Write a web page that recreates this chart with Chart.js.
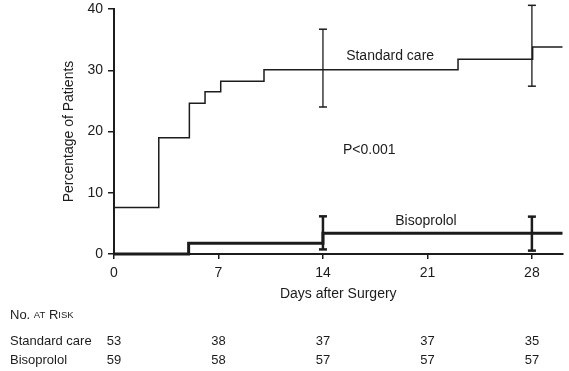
<!DOCTYPE html>
<html>
<head>
<meta charset="utf-8">
<script src="https://cdn.jsdelivr.net/npm/chart.js@4"></script>
<style>
  html, body { margin: 0; padding: 0; background: #fff; }
  #wrap { width: 569px; height: 371px; }
</style>
</head>
<body>
<div id="wrap"><canvas id="kmcanvas" width="569" height="371"></canvas></div>
<script>
// step curves (day where the level starts, percentage)
const standardDays = [0, 3, 5.05, 6.1, 7.15, 10.05, 23.05, 28.05, 30.05];
const standardPct  = [7.6, 19.0, 24.6, 26.5, 28.2, 30.1, 31.8, 33.8, 33.8];
const bisoDays = [0, 5, 14, 30.05];
const bisoPct  = [0, 1.75, 3.4, 3.4];

// error bars
const errDays = [14, 28];
const standardLow  = [24.0, 27.4];
const standardHigh = [36.7, 40.6];
const bisoLow  = [0.75, 0.55];
const bisoHigh = [6.15, 6.1];

// axis ticks
const xTicks = [0, 7, 14, 21, 28];
const yTicks = [0, 10, 20, 30, 40];

// number at risk
const riskDays = [0, 7, 14, 21, 28];
const riskStandard = [53, 38, 37, 37, 35];
const riskBiso = [59, 58, 57, 57, 57];

const FONT = '"Liberation Sans", Arial, Helvetica, sans-serif';
const INK = '#1c1c1c';

function steps(days, vals) {
  return days.map((d, i) => ({ x: d, y: vals[i] }));
}
function bars(days, lo, hi) {
  let out = [];
  days.forEach((d, i) => {
    if (i > 0) out.push({ x: d, y: null });
    out.push({ x: d, y: lo[i] });
    out.push({ x: d, y: hi[i] });
  });
  return out;
}

const labelsPlugin = {
  id: 'kmLabels',
  afterDatasetsDraw(chart) {
    const ctx = chart.ctx;
    const xs = chart.scales.x, ys = chart.scales.y;
    ctx.save();
    ctx.fillStyle = INK;
    ctx.font = '14px ' + FONT;
    ctx.textAlign = 'center';
    ctx.textBaseline = 'middle';
    ctx.fillText('Standard care', xs.getPixelForValue(18.5), ys.getPixelForValue(32.3));
    ctx.fillText('P<0.001', xs.getPixelForValue(17.1), ys.getPixelForValue(16.9));
    ctx.fillText('Bisoprolol', xs.getPixelForValue(20.9), ys.getPixelForValue(5.3));

    // No. at risk heading in small caps
    let x = 10, y = 315;
    ctx.textAlign = 'left';
    [['No.', 13], [' ', 13], ['AT', 9.5], [' ', 13], ['R', 13], ['ISK', 9.5]].forEach(p => {
      ctx.font = p[1] + 'px ' + FONT;
      ctx.fillText(p[0], x, y + (p[1] < 13 ? 0.5 : 0));
      x += ctx.measureText(p[0]).width;
    });

    ctx.font = '13px ' + FONT;
    ctx.fillText('Standard care', 10, 341);
    ctx.fillText('Bisoprolol', 10, 360);
    ctx.textAlign = 'center';
    riskDays.forEach((d, i) => {
      const px = xs.getPixelForValue(d);
      ctx.fillText(String(riskStandard[i]), px, 341);
      ctx.fillText(String(riskBiso[i]), px, 360);
    });
    ctx.restore();
  }
};

const ctx = document.getElementById('kmcanvas');
const chart = new Chart(ctx, {
  type: 'line',
  data: {
    datasets: [
      {
        label: 'Standard care',
        data: steps(standardDays, standardPct),
        stepped: true,
        borderColor: INK,
        borderWidth: 1.5,
        pointRadius: 0,
        fill: false,
        clip: false
      },
      {
        label: 'Bisoprolol',
        data: steps(bisoDays, bisoPct),
        stepped: true,
        borderColor: INK,
        borderWidth: 3,
        pointRadius: 0,
        fill: false,
        clip: false
      },
      {
        label: 'Standard care CI',
        data: bars(errDays, standardLow, standardHigh),
        borderColor: INK,
        borderWidth: 1.3,
        pointStyle: 'line',
        pointRadius: 4,
        pointBorderWidth: 1.5,
        pointBorderColor: INK,
        spanGaps: false,
        clip: false
      },
      {
        label: 'Bisoprolol CI',
        data: bars(errDays, bisoLow, bisoHigh),
        borderColor: INK,
        borderWidth: 2.5,
        pointStyle: 'line',
        pointRadius: 4,
        pointBorderWidth: 2.5,
        pointBorderColor: INK,
        spanGaps: false,
        clip: false
      }
    ]
  },
  options: {
    responsive: false,
    animation: false,
    layout: { padding: { left: 0, right: 6, top: 9, bottom: 66 } },
    plugins: {
      legend: { display: false },
      tooltip: { enabled: false }
    },
    scales: {
      x: {
        type: 'linear',
        min: 0,
        max: 30.05,
        afterBuildTicks: s => { s.ticks = xTicks.map(v => ({ value: v })); },
        afterFit: s => { s.height = 51; },
        grid: { drawOnChartArea: false, drawTicks: true, tickLength: 5, color: INK, lineWidth: 1.5 },
        border: { color: INK, width: 2 },
        ticks: { color: INK, padding: 6, font: { family: FONT, size: 14 }, maxRotation: 0 },
        title: {
          display: true,
          text: 'Days after Surgery',
          color: INK,
          font: { family: FONT, size: 14 },
          padding: { top: 4, bottom: 2 }
        }
      },
      y: {
        min: 0,
        max: 40,
        afterBuildTicks: s => { s.ticks = yTicks.map(v => ({ value: v })); },
        afterFit: s => { s.width = 114; s.paddingTop = 0; s.paddingBottom = 0; },
        grid: { drawOnChartArea: false, drawTicks: true, tickLength: 6, color: INK, lineWidth: 1.5 },
        border: { color: INK, width: 2 },
        ticks: { color: INK, padding: 5, font: { family: FONT, size: 14 } },
        title: {
          display: true,
          text: 'Percentage of Patients',
          color: INK,
          font: { family: FONT, size: 14 },
          padding: { top: 61, bottom: 4 }
        }
      }
    }
  },
  plugins: [labelsPlugin]
});
</script>
</body>
</html>
